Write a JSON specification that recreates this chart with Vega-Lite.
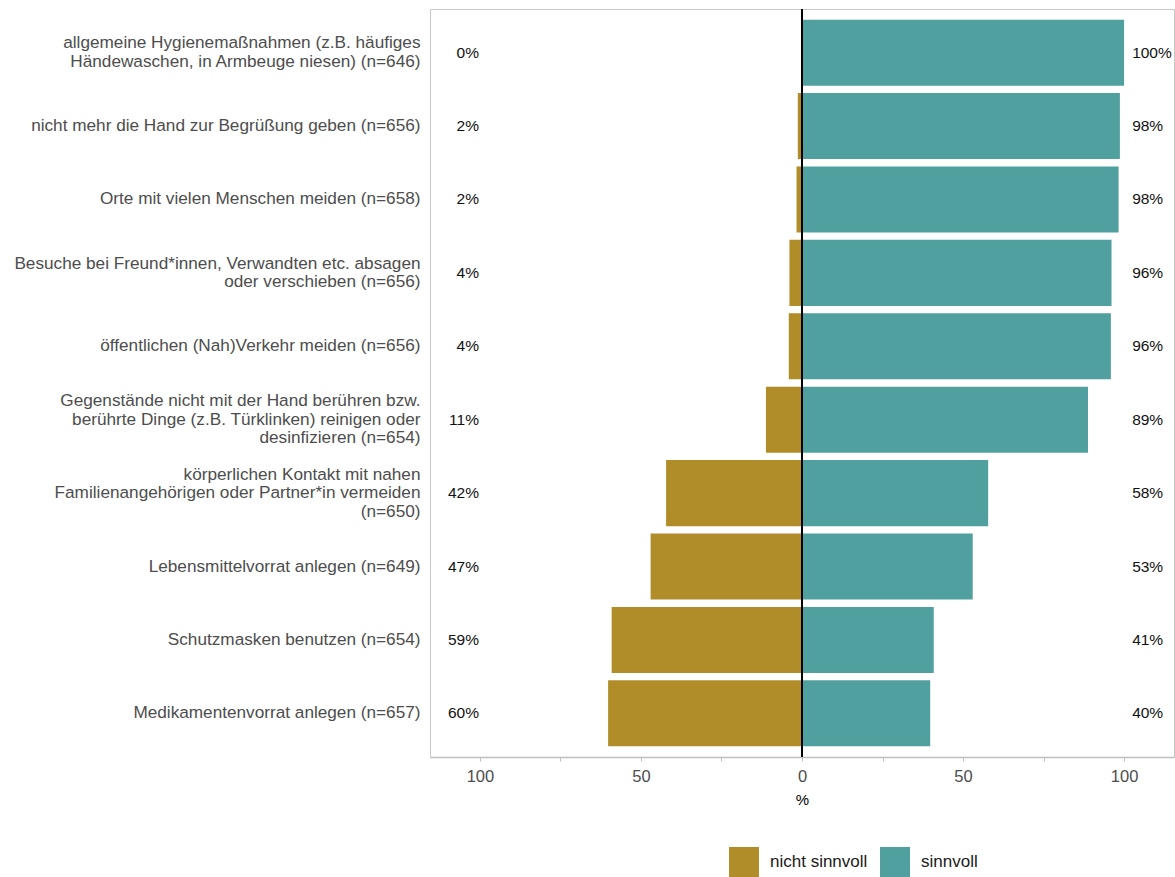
{
  "$schema": "https://vega.github.io/schema/vega-lite/v6.json",
  "width": 744,
  "height": 748,
  "autosize": {"type": "none"},
  "padding": {"left": 430, "top": 9, "right": 1, "bottom": 120},
  "background": "white",
  "config": {
    "font": "Liberation Sans",
    "view": {"stroke": "#c8c8c8", "strokeWidth": 1},
    "legend": {
      "orient": "none",
      "legendX": 299,
      "legendY": 838,
      "direction": "horizontal",
      "symbolType": "square",
      "symbolSize": 900,
      "symbolStrokeWidth": 0,
      "labelFontSize": 17,
      "labelOffset": 11,
      "columnPadding": 12,
      "labelColor": "#1a1a1a",
      "padding": 0
    }
  },
  "datasets": {
    "bars": [
      {"item": "allgemeine Hygienemaßnahmen (z.B. häufiges|Händewaschen, in Armbeuge niesen) (n=646)", "group": "nicht sinnvoll", "value": 0, "label": "0%"},
      {"item": "allgemeine Hygienemaßnahmen (z.B. häufiges|Händewaschen, in Armbeuge niesen) (n=646)", "group": "sinnvoll", "value": 100, "label": "100%"},
      {"item": "nicht mehr die Hand zur Begrüßung geben (n=656)", "group": "nicht sinnvoll", "value": -1.3, "label": "2%"},
      {"item": "nicht mehr die Hand zur Begrüßung geben (n=656)", "group": "sinnvoll", "value": 98.7, "label": "98%"},
      {"item": "Orte mit vielen Menschen meiden (n=658)", "group": "nicht sinnvoll", "value": -1.7, "label": "2%"},
      {"item": "Orte mit vielen Menschen meiden (n=658)", "group": "sinnvoll", "value": 98.3, "label": "98%"},
      {"item": "Besuche bei Freund*innen, Verwandten etc. absagen|oder verschieben (n=656)", "group": "nicht sinnvoll", "value": -3.9, "label": "4%"},
      {"item": "Besuche bei Freund*innen, Verwandten etc. absagen|oder verschieben (n=656)", "group": "sinnvoll", "value": 96.1, "label": "96%"},
      {"item": "öffentlichen (Nah)Verkehr meiden (n=656)", "group": "nicht sinnvoll", "value": -4.1, "label": "4%"},
      {"item": "öffentlichen (Nah)Verkehr meiden (n=656)", "group": "sinnvoll", "value": 95.9, "label": "96%"},
      {"item": "Gegenstände nicht mit der Hand berühren bzw.|berührte Dinge (z.B. Türklinken) reinigen oder|desinfizieren (n=654)", "group": "nicht sinnvoll", "value": -11.2, "label": "11%"},
      {"item": "Gegenstände nicht mit der Hand berühren bzw.|berührte Dinge (z.B. Türklinken) reinigen oder|desinfizieren (n=654)", "group": "sinnvoll", "value": 88.8, "label": "89%"},
      {"item": "körperlichen Kontakt mit nahen|Familienangehörigen oder Partner*in vermeiden|(n=650)", "group": "nicht sinnvoll", "value": -42.2, "label": "42%"},
      {"item": "körperlichen Kontakt mit nahen|Familienangehörigen oder Partner*in vermeiden|(n=650)", "group": "sinnvoll", "value": 57.8, "label": "58%"},
      {"item": "Lebensmittelvorrat anlegen (n=649)", "group": "nicht sinnvoll", "value": -47, "label": "47%"},
      {"item": "Lebensmittelvorrat anlegen (n=649)", "group": "sinnvoll", "value": 53, "label": "53%"},
      {"item": "Schutzmasken benutzen (n=654)", "group": "nicht sinnvoll", "value": -59.1, "label": "59%"},
      {"item": "Schutzmasken benutzen (n=654)", "group": "sinnvoll", "value": 40.9, "label": "41%"},
      {"item": "Medikamentenvorrat anlegen (n=657)", "group": "nicht sinnvoll", "value": -60.2, "label": "60%"},
      {"item": "Medikamentenvorrat anlegen (n=657)", "group": "sinnvoll", "value": 39.8, "label": "40%"}
    ]
  },
  "data": {"name": "bars"},
  "layer": [
    {
      "mark": {"type": "bar"},
      "encoding": {
        "x": {
          "field": "value",
          "type": "quantitative",
          "stack": null,
          "title": "%",
          "scale": {"domain": [-115.5, 115.5], "nice": false, "zero": false},
          "axis": {
            "values": [-100, -75, -50, -25, 0, 25, 50, 75, 100],
            "labelExpr": "abs(datum.value) % 50 == 0 ? format(abs(datum.value), 'd') : ''",
            "grid": false,
            "domainColor": "#bebebe",
            "domainWidth": 1.5,
            "tickColor": "#bebebe",
            "tickSize": 4,
            "labelFontSize": 16.5,
            "labelColor": "#4d4d4d",
            "labelPadding": 7,
            "titleFontSize": 15,
            "titleFontWeight": "normal",
            "titleColor": "#000000",
            "titlePadding": 8
          }
        },
        "y": {
          "field": "item",
          "type": "nominal",
          "sort": null,
          "title": null,
          "scale": {"paddingInner": 0.1, "paddingOuter": 0.145},
          "axis": {
            "ticks": false,
            "tickSize": 0,
            "domain": false,
            "grid": false,
            "labelExpr": "split(datum.label, '|')",
            "labelOffset": {
              "condition": [
                {"test": "length(split(datum.label, '|')) == 3", "value": -18.5},
                {"test": "length(split(datum.label, '|')) == 2", "value": -9.25}
              ],
              "value": 0
            },
            "labelFontSize": 17.2,
            "labelColor": "#4d4d4d",
            "labelLineHeight": 18.5,
            "labelPadding": 10,
            "labelLimit": 600
          }
        },
        "color": {
          "field": "group",
          "type": "nominal",
          "title": null,
          "scale": {"domain": ["nicht sinnvoll", "sinnvoll"], "range": ["#B08D28", "#4FA09F"]}
        }
      }
    },
    {
      "transform": [{"filter": "datum.group == 'nicht sinnvoll'"}],
      "mark": {"type": "text", "align": "right", "baseline": "middle", "fontSize": 15.5, "color": "#111111"},
      "encoding": {
        "x": {"datum": -100.3, "type": "quantitative", "title": "%"},
        "y": {"field": "item", "type": "nominal", "sort": null, "title": null},
        "text": {"field": "label"}
      }
    },
    {
      "transform": [{"filter": "datum.group == 'sinnvoll'"}],
      "mark": {"type": "text", "align": "left", "baseline": "middle", "fontSize": 15.5, "color": "#111111"},
      "encoding": {
        "x": {"datum": 102.5, "type": "quantitative", "title": "%"},
        "y": {"field": "item", "type": "nominal", "sort": null, "title": null},
        "text": {"field": "label"}
      }
    },
    {
      "mark": {"type": "rule", "color": "#000000", "strokeWidth": 1},
      "encoding": {
        "x": {"datum": 0, "type": "quantitative", "title": "%"}
      }
    }
  ]
}
